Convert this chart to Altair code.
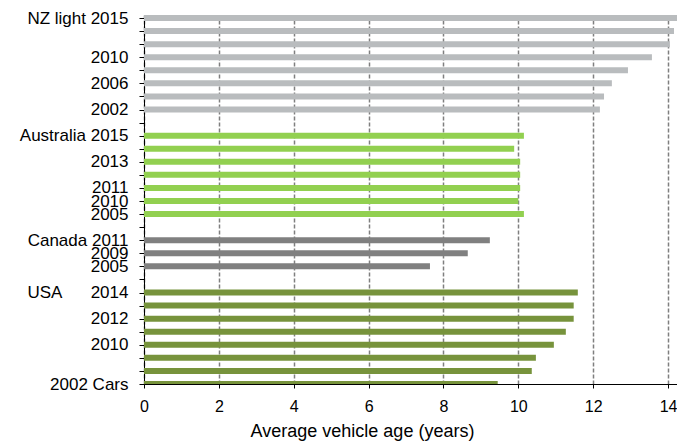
import json
import altair as alt
import pandas as pd

# Category slots (top to bottom); empty slots separate the country groups
slot_labels = [
    "NZ light 2015", "", "", "2010", "", "2006", "", "2002",
    "",
    "Australia 2015", "", "2013", "", "2011", "2010", "2005",
    "",
    "Canada 2011", "2009", "2005",
    "",
    "USA\u00a0\u00a0\u00a0\u00a0\u00a0\u00a02014", "", "2012", "", "2010", "", "", "2002 Cars",
]

nz_values = [14.35, 14.16, 14.05, 13.57, 12.93, 12.50, 12.29, 12.18]
au_values = [10.15, 9.89, 10.05, 10.05, 10.05, 10.00, 10.15]
ca_values = [9.24, 8.65, 7.64]
us_values = [11.59, 11.48, 11.48, 11.27, 10.95, 10.47, 10.36, 9.45]

groups = ["NZ", "Australia", "Canada", "USA"]
group_values = [nz_values, au_values, ca_values, us_values]
group_start = [0, 9, 17, 21]
colors = ["#b9bcbe", "#92d050", "#808080", "#77933c"]

rows = []
for g, vals, start in zip(groups, group_values, group_start):
    for i, v in enumerate(vals):
        rows.append({"group": g, "pos": start + i, "value": v, "zero": 0})
df = pd.DataFrame(rows)

label_expr = json.dumps(slot_labels, ensure_ascii=False) + "[datum.value]"

chart = alt.Chart(df).mark_rule(strokeWidth=6, clip=True).encode(
    x=alt.X(
        "zero:Q",
        scale=alt.Scale(domain=[0, 14.24], nice=False, zero=False),
        axis=alt.Axis(
            title="Average vehicle age (years)",
            values=[0, 2, 4, 6, 8, 10, 12, 14],
            grid=True,
            gridColor="#7f7f7f",
            gridDash=[4, 2],
            gridWidth=1.5,
            domainColor="#000000",
            domainWidth=1,
            tickColor="#000000",
            tickSize=4,
            labelFont="Liberation Sans",
            labelFontSize=16,
            labelColor="#000000",
            labelPadding=10,
            labelFlush=False,
            titleFont="Liberation Sans",
            titleFontSize=18,
            titleFontWeight="normal",
            titleColor="#000000",
            titlePadding=8,
            titleX=218,
            titleAlign="center",
        ),
    ),
    x2="value:Q",
    y=alt.Y(
        "pos:Q",
        scale=alt.Scale(domain=[-0.23, 28], reverse=True, nice=False, zero=False),
        axis=alt.Axis(
            title=None,
            values=list(range(len(slot_labels))),
            labelExpr=label_expr,
            grid=False,
            domainColor="#000000",
            domainWidth=1,
            tickColor="#000000",
            tickSize=5,
            labelFont="Liberation Sans",
            labelFontSize=17,
            labelColor="#000000",
            labelPadding=11,
            labelOverlap=False,
            labelFlush=False,
            labelBaseline="middle",
        ),
    ),
    color=alt.Color(
        "group:N",
        scale=alt.Scale(domain=groups, range=colors),
        legend=None,
    ),
).properties(
    width=533,
    height=369,
    autosize=alt.AutoSizeParams(type="none"),
    padding={"left": 144, "top": 15, "right": 0, "bottom": 57},
).configure_view(stroke=None).configure(background="#ffffff")

chart.save("out.html", embed_options={"renderer": "svg", "actions": False})
